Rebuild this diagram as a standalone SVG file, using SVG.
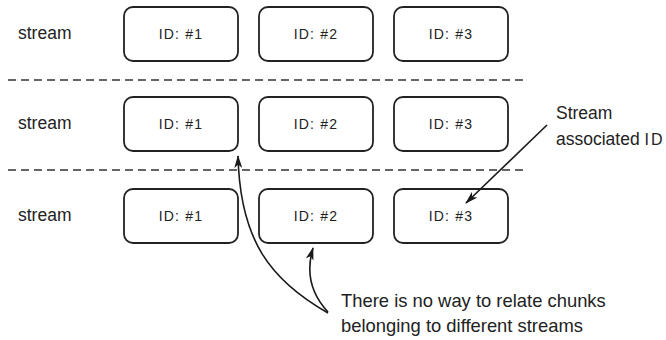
<svg xmlns="http://www.w3.org/2000/svg" width="666" height="340" viewBox="0 0 666 340">
  <style>
    .label { font-family: "Liberation Sans", Arial, sans-serif; font-size: 17.5px; fill: #222; }
    .note { font-family: "Liberation Sans", Arial, sans-serif; font-size: 18.4px; fill: #222; }
    .id { font-family: "Liberation Sans", Arial, sans-serif; font-size: 14px; letter-spacing: 1.2px; fill: #222; text-anchor: middle; }
    .box { fill: #fff; stroke: #222; stroke-width: 1.8; }
    .sep { stroke: #333; stroke-width: 1.3; stroke-dasharray: 8 5; fill: none; }
    .conn { stroke: #1a1a1a; stroke-width: 1.6; fill: none; marker-end: url(#head); }
  </style>
  <defs>
    <marker id="head" viewBox="0 0 13 8" refX="12" refY="4" markerWidth="13" markerHeight="8" markerUnits="userSpaceOnUse" orient="auto">
      <path d="M0,0 L13,4 L0,8 L3.5,4 z" fill="#1a1a1a"/>
    </marker>
  </defs>

  <rect width="666" height="340" fill="#fff"/>

  <!-- row separators -->
  <line class="sep" x1="8" y1="80" x2="528" y2="80"/>
  <line class="sep" x1="8" y1="170" x2="528" y2="170"/>

  <!-- stream labels -->
  <text class="label" x="18" y="39">stream</text>
  <text class="label" x="18" y="129">stream</text>
  <text class="label" x="18" y="221">stream</text>

  <!-- row 1 -->
  <g id="r1-id1"><rect class="box" x="124" y="7" width="114" height="54" rx="9"/><text class="id" x="181" y="39">ID: #1</text></g>
  <g id="r1-id2"><rect class="box" x="259" y="7" width="114" height="54" rx="9"/><text class="id" x="316" y="39">ID: #2</text></g>
  <g id="r1-id3"><rect class="box" x="394" y="7" width="114" height="54" rx="9"/><text class="id" x="451" y="39">ID: #3</text></g>

  <!-- row 2 -->
  <g id="r2-id1"><rect class="box" x="124" y="97" width="114" height="54" rx="9"/><text class="id" x="181" y="129">ID: #1</text></g>
  <g id="r2-id2"><rect class="box" x="259" y="97" width="114" height="54" rx="9"/><text class="id" x="316" y="129">ID: #2</text></g>
  <g id="r2-id3"><rect class="box" x="394" y="97" width="114" height="54" rx="9"/><text class="id" x="451" y="129">ID: #3</text></g>

  <!-- row 3 -->
  <g id="r3-id1"><rect class="box" x="124" y="189" width="114" height="54" rx="9"/><text class="id" x="181" y="221">ID: #1</text></g>
  <g id="r3-id2"><rect class="box" x="259" y="189" width="114" height="54" rx="9"/><text class="id" x="316" y="221">ID: #2</text></g>
  <g id="r3-id3"><rect class="box" x="394" y="189" width="114" height="54" rx="9"/><text class="id" x="451" y="221">ID: #3</text></g>

  <!-- annotations -->
  <g id="note-assoc">
    <text class="label" x="556" y="119">Stream</text>
    <text class="label" x="556" y="145">associated <tspan font-size="16" letter-spacing="2">ID</tspan></text>
  </g>
  <g id="note-chunks">
    <text class="note" x="341" y="307">There is no way to relate chunks</text>
    <text class="note" x="341" y="332">belonging to different streams</text>
  </g>

  <!-- connectors -->
  <g id="connectors">
    <path class="conn" d="M547,125 L466,203"/>
    <path class="conn" d="M328,313 C270,280 240,240 238,156"/>
    <path class="conn" d="M328,312 C312,295 305,275 313,248"/>
  </g>
</svg>
